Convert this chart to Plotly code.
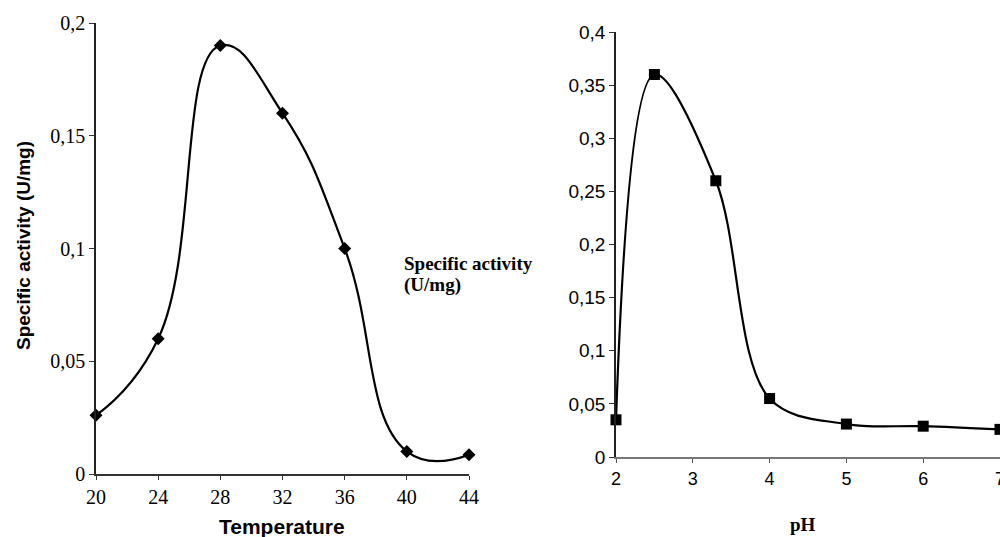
import plotly.graph_objects as go

# Left panel: temperature profile
temperature = [20, 24, 28, 32, 36, 40, 44]
activity_temp = [0.026, 0.060, 0.190, 0.160, 0.100, 0.010, 0.0085]
temp_ticks = [20, 24, 28, 32, 36, 40, 44]
temp_yticks = [0, 0.05, 0.1, 0.15, 0.2]
temp_yticktext = ["0", "0,05", "0,1", "0,15", "0,2"]

# Right panel: pH profile
ph = [2, 2.5, 3.3, 4, 5, 6, 7]
activity_ph = [0.035, 0.360, 0.260, 0.055, 0.031, 0.029, 0.026]
ph_ticks = [2, 3, 4, 5, 6, 7]
ph_yticks = [0, 0.05, 0.1, 0.15, 0.2, 0.25, 0.3, 0.35, 0.4]
ph_yticktext = ["0", "0,05", "0,1", "0,15", "0,2", "0,25", "0,3", "0,35", "0,4"]

W, H = 1000, 537

fig = go.Figure()
fig.add_trace(go.Scatter(
    x=temperature, y=activity_temp, mode="lines+markers",
    line=dict(color="black", width=2.2, shape="spline", smoothing=1.3),
    marker=dict(symbol="diamond", size=10, color="black"),
    cliponaxis=False, xaxis="x", yaxis="y", showlegend=False))
fig.add_trace(go.Scatter(
    x=ph, y=activity_ph, mode="lines+markers",
    line=dict(color="black", width=2.2, shape="spline", smoothing=1.0),
    marker=dict(symbol="square", size=11, color="black"),
    cliponaxis=False, xaxis="x2", yaxis="y2", showlegend=False))

serif = "Liberation Serif, Times New Roman, serif"
sans = "Liberation Sans, Arial, sans-serif"

fig.update_layout(
    width=W, height=H,
    margin=dict(l=0, r=0, t=0, b=0, autoexpand=False),
    paper_bgcolor="white", plot_bgcolor="white",
    xaxis=dict(domain=[96 / W, 469 / W], range=[20, 44], tickvals=temp_ticks,
               showline=True, linecolor="#333", linewidth=1.5, ticks="outside",
               ticklen=4, tickcolor="#333", showgrid=False, zeroline=False,
               automargin=False, ticklabeloverflow="allow",
               tickfont=dict(family=serif, size=20, color="black"), anchor="y"),
    yaxis=dict(domain=[(H - 474) / H, (H - 23) / H], range=[0, 0.2],
               tickvals=temp_yticks, ticktext=temp_yticktext,
               showline=True, linecolor="#222", linewidth=1.5, ticks="outside",
               ticklen=5, tickcolor="#333", showgrid=False, zeroline=False,
               automargin=False,
               tickfont=dict(family=serif, size=20, color="black"), anchor="x"),
    xaxis2=dict(domain=[616 / W, 1.0], range=[2, 7], tickvals=ph_ticks,
                showline=True, linecolor="#777", linewidth=2, ticks="outside",
                ticklen=4, tickcolor="#555", showgrid=False, zeroline=False,
                automargin=False, ticklabeloverflow="allow",
                tickfont=dict(family=sans, size=18, color="black"), anchor="y2"),
    yaxis2=dict(domain=[(H - 457) / H, (H - 32) / H], range=[0, 0.4],
                tickvals=ph_yticks, ticktext=ph_yticktext,
                showline=True, linecolor="#222", linewidth=1.5, ticks="outside",
                ticklen=5, tickcolor="#333", showgrid=False, zeroline=False,
                automargin=False,
                tickfont=dict(family=sans, size=19, color="black"), anchor="x2"),
)

annotations = [
    dict(text="<b>Specific activity (U/mg)</b>", x=24 / W, y=(H - 246) / H,
         textangle=-90, font=dict(family=sans, size=19, color="black")),
    dict(text="<b>Temperature</b>", x=282 / W, y=(H - 526) / H,
         font=dict(family=sans, size=21, color="black")),
    dict(text="<b>pH</b>", x=803 / W, y=(H - 524) / H,
         font=dict(family=serif, size=19, color="black")),
    dict(text="<b>Specific activity</b>", x=402 / W, y=(H - 263) / H, xanchor="left",
         font=dict(family=serif, size=19, color="black")),
    dict(text="<b>(U/mg)</b>", x=402 / W, y=(H - 285) / H, xanchor="left",
         font=dict(family=serif, size=19, color="black")),
]
for a in annotations:
    a.update(xref="paper", yref="paper", showarrow=False)
    a.setdefault("xanchor", "center")
    a.setdefault("yanchor", "middle")
fig.update_layout(annotations=annotations)

fig.write_html("out.html")
